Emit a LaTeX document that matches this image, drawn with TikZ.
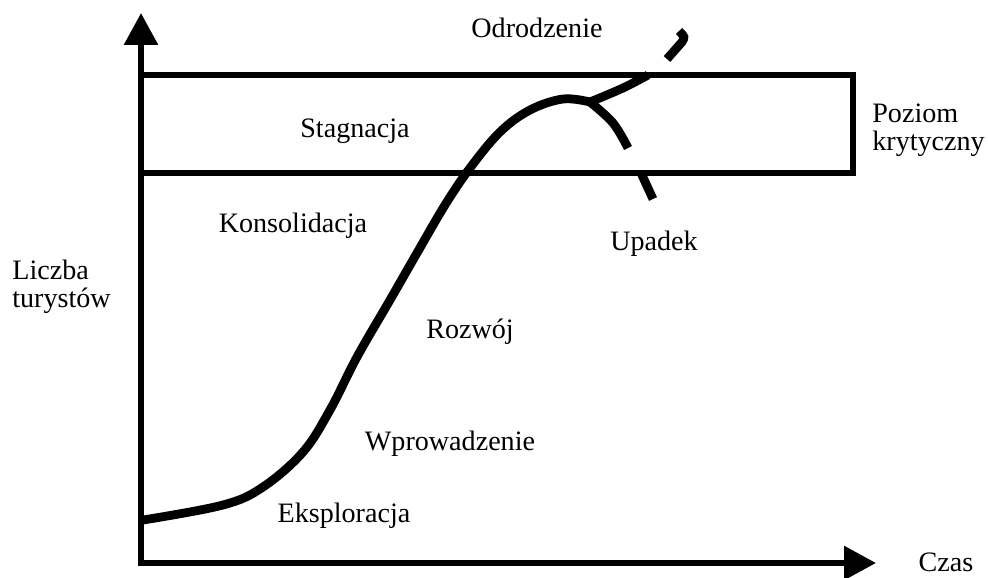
\documentclass[tikz,border=0pt]{standalone}
\usepackage{fontspec}
\setmainfont{Liberation Serif}
\usepackage{tikz}
\usetikzlibrary{arrows.meta,positioning}
\tikzset{
  axisline/.style={line width=3.4pt,line cap=rect,-{Triangle[length=0.64cm,width=0.66cm]}},
  boxline/.style={line width=3.4pt},
  lifecurve/.style={line width=5pt},
  phase/.style={inner sep=0pt,anchor=base,font=\fontsize{16}{16}\selectfont},
  sidelabel/.style={inner sep=0pt,anchor=west,align=left,font=\fontsize{16}{16}\selectfont}
}

\begin{document}
\begin{tikzpicture}[x=0.02cm,y=-0.02cm]
  \useasboundingbox (0,0) rectangle (988,578);
  \coordinate (O) at (141,563);
  \coordinate (ytop) at (141,13);
  \coordinate (xend) at (876,563);
  \coordinate (boxtl) at (141,75);
  \coordinate (boxtr) at (853,75);
  \coordinate (boxbr) at (853,173);
  \coordinate (boxbl) at (141,173);
  \coordinate (peak) at (590,102);
  \draw[boxline] (boxtl) -- (boxtr) -- (boxbr) -- (boxbl);
  \draw[axisline] (O) -- (ytop);
  \draw[axisline] (O) -- (xend);
  \draw[lifecurve] plot[smooth,tension=0.6] coordinates {(143,520) (223,505) (263,487) (303,452) (330,410) (357,357) (390,300) (417,253) (445,205) (470,168) (500,132) (530,110) (563,99) (peak)};
  \draw[lifecurve] plot[smooth,tension=0.6] coordinates {(peak) (623,88) (648,75)};
  \draw[lifecurve] (667,59) -- (682,42) .. controls (685,37) .. (679,31);
  \draw[lifecurve] plot[smooth,tension=0.6] coordinates {(peak) (613,123) (628,148)};
  \draw[lifecurve] (641,173) -- (653,199);
  \node[phase] (odr) at (537,37) {Odrodzenie};
  \node[phase] (stag) at (355,137) {Stagnacja};
  \node[phase] (kons) at (293,232) {Konsolidacja};
  \node[phase] (upad) at (654,250) {Upadek};
  \node[phase] (rozw) at (470,338) {Rozwój};
  \node[phase] (wpro) at (450,450) {Wprowadzenie};
  \node[phase] (eksp) at (344,522) {Eksploracja};
  \node[phase] (czas) at (946,571) {Czas};
  \node[sidelabel] (liczba) at (12,287) {Liczba\\turystów};
  \node[sidelabel] (poziom) at (872,130) {Poziom\\krytyczny};
\end{tikzpicture}
\end{document}
